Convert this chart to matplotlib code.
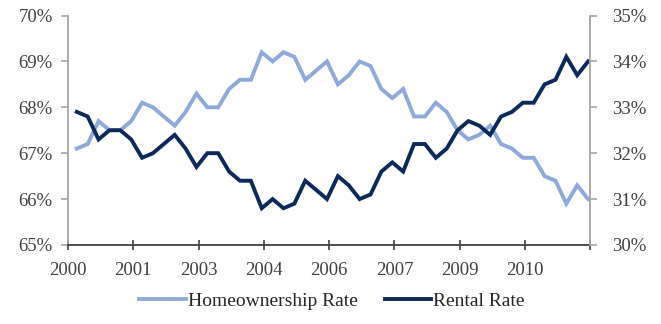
import matplotlib
matplotlib.use("Agg")
import matplotlib.pyplot as plt
import numpy as np

# quarterly data, 2000Q1 - 2011Q4
homeownership = [67.1, 67.2, 67.7, 67.5, 67.5, 67.7, 68.1, 68.0,
                 67.8, 67.6, 67.9, 68.3, 68.0, 68.0, 68.4, 68.6,
                 68.6, 69.2, 69.0, 69.2, 69.1, 68.6, 68.8, 69.0,
                 68.5, 68.7, 69.0, 68.9, 68.4, 68.2, 68.4, 67.8,
                 67.8, 68.1, 67.9, 67.5, 67.3, 67.4, 67.6, 67.2,
                 67.1, 66.9, 66.9, 66.5, 66.4, 65.9, 66.3, 66.0]
rental = [32.9, 32.8, 32.3, 32.5, 32.5, 32.3, 31.9, 32.0,
          32.2, 32.4, 32.1, 31.7, 32.0, 32.0, 31.6, 31.4,
          31.4, 30.8, 31.0, 30.8, 30.9, 31.4, 31.2, 31.0,
          31.5, 31.3, 31.0, 31.1, 31.6, 31.8, 31.6, 32.2,
          32.2, 31.9, 32.1, 32.5, 32.7, 32.6, 32.4, 32.8,
          32.9, 33.1, 33.1, 33.5, 33.6, 34.1, 33.7, 34.0]
tick_labels = ["2000", "2001", "2003", "2004", "2006", "2007", "2009", "2010", ""]

LIGHT = "#8EA9DB"
DARK = "#0B2A5B"
TXT = "#404040"
SPINE = "#A6A6A6"
AXIS = "#404040"

plt.rcParams["font.family"] = ["Liberation Serif", "DejaVu Serif"]

fig = plt.figure(figsize=(6.61, 3.24), dpi=100)
ax = fig.add_axes([0.103, 0.244, 0.790, 0.708])
ax2 = ax.twinx()

x = np.arange(len(homeownership)) + 0.8
l1, = ax.plot(x, homeownership, color=LIGHT, lw=2.8, solid_joinstyle="miter",
              label="Homeownership Rate")
l2, = ax2.plot(x, rental, color=DARK, lw=2.8, solid_joinstyle="miter",
               label="Rental Rate")

ax.set_xlim(0, 48)
ax.set_ylim(65, 70)
ax2.set_ylim(30, 35)
ax.set_xticks(np.arange(0, 49, 6))
ax.set_xticklabels(tick_labels)
ax.set_yticks(np.arange(65, 71, 1))
ax.set_yticklabels([f"{v}%" for v in range(65, 71)])
ax2.set_yticks(np.arange(30, 36, 1))
ax2.set_yticklabels([f"{v}%" for v in range(30, 36)])

for a in (ax, ax2):
    a.spines["top"].set_visible(False)
    for s in ("left", "right"):
        a.spines[s].set_color(SPINE)
        a.spines[s].set_linewidth(1.3)
    a.tick_params(axis="y", colors=SPINE, labelcolor=TXT, labelsize=13.5,
                  length=5, width=1.2)
ax.tick_params(axis="y", pad=6)
ax2.tick_params(axis="y", pad=11)
ax.spines["right"].set_visible(False)
ax2.spines["left"].set_visible(False)
ax2.spines["bottom"].set_visible(False)
ax.spines["bottom"].set_color(AXIS)
ax.spines["bottom"].set_linewidth(1.3)
ax.tick_params(axis="x", direction="inout", length=7, width=1.2, pad=9,
               colors=AXIS, labelcolor=TXT, labelsize=13.5)

fig.legend(handles=[l1, l2], loc="center", bbox_to_anchor=(0.502, 0.07),
           ncol=2, frameon=False, fontsize=14, handlelength=2.4,
           handletextpad=0.1, columnspacing=1.4, labelcolor="#262626")

fig.savefig("out.png", dpi=100)
